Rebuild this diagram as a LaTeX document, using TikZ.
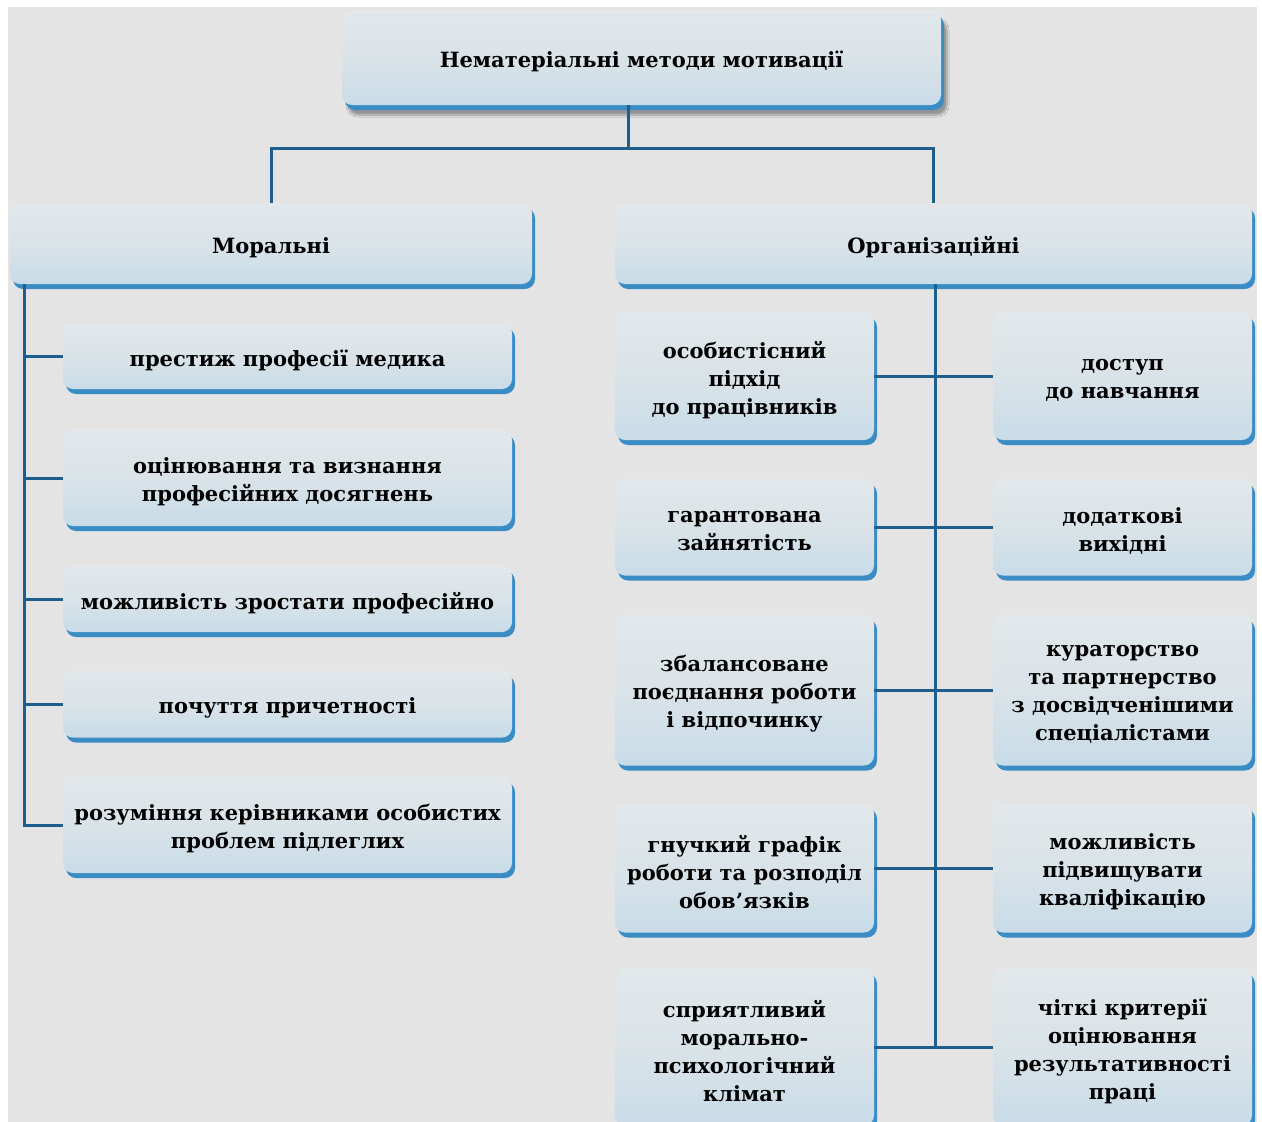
\documentclass[tikz,border=0pt]{standalone}
\usepackage{fontspec}
\setmainfont{DejaVu Serif}
\usetikzlibrary{shadows,shadows.blur}
\definecolor{bggray}{HTML}{E4E4E4}
\definecolor{edgeblue}{HTML}{3A8CC4}
\definecolor{linkblue}{HTML}{1E5E8C}
\definecolor{boxtop}{HTML}{E2E8EB}
\definecolor{boxmid}{HTML}{DAE3E8}
\definecolor{boxbot}{HTML}{C8DCE8}
\tikzset{
  mybox/.style={rectangle, rounded corners=10pt, inner sep=0pt, draw=none,
    top color=boxtop, bottom color=boxbot, middle color=boxmid,
    general shadow={fill=edgeblue, shadow xshift=3pt, shadow yshift=-5pt}},
  txt/.style={align=center, inner sep=0pt, yshift=-4pt, font=\bfseries\fontsize{21}{28}\selectfont},
  link/.style={draw=linkblue, line width=3pt},
}
\newcommand\bx[6]{\node[mybox, minimum width=#4pt, minimum height=#5pt, label={[txt]center:{#6}}] (#1) at (#2,#3) {};}
\begin{document}
\begin{tikzpicture}[x=1pt,y=-1pt]
\useasboundingbox (0,0) rectangle (1262,1122);
\fill[white] (0,0) rectangle (1262,1122);
\fill[bggray] (8,7) rectangle (1257,1122);
\clip (0,0) rectangle (1262,1122);

\coordinate (j) at (628,148);
\coordinate (lt) at (24,0);
\coordinate (rt) at (935,0);

% top
\node[blur shadow={shadow xshift=6pt, shadow yshift=-10pt, shadow blur steps=8, shadow opacity=35}, mybox, minimum width=599pt, minimum height=95pt, label={[txt]center:{Нематеріальні методи мотивації}}] (top) at (641.5,57.5) {};
\bx{mor}{271}{243.5}{522}{81}{Моральні}
\bx{org}{933.5}{243.5}{637}{81}{Організаційні}

% left column
\bx{L1}{287.5}{356}{449}{66}{престиж професії медика}
\bx{L2}{287.5}{478}{449}{96}{оцінювання та визнання\\професійних досягнень}
\bx{L3}{287.5}{599}{449}{66}{можливість зростати професійно}
\bx{L4}{287.5}{704}{449}{67}{почуття причетності}
\bx{L5}{287.5}{825}{449}{96}{розуміння керівниками особистих\\проблем підлеглих}

% right columns
\bx{A1}{744.5}{376}{259}{128}{особистісний\\підхід\\до працівників}
\bx{B1}{1122.5}{376}{259}{128}{доступ\\до навчання}
\bx{A2}{744.5}{527}{259}{97}{гарантована\\зайнятість}
\bx{B2}{1122.5}{527}{259}{97}{додаткові\\вихідні}
\bx{A3}{744.5}{690}{259}{151}{збалансоване\\поєднання роботи\\і відпочинку}
\bx{B3}{1122.5}{690}{259}{151}{кураторство\\та партнерство\\з досвідченішими\\спеціалістами}
\bx{A4}{744.5}{868}{259}{129}{гнучкий графік\\роботи та розподіл\\обов’язків}
\bx{B4}{1122.5}{868}{259}{129}{можливість\\підвищувати\\кваліфікацію}
\bx{A5}{744.5}{1047}{259}{157}{сприятливий\\морально-\\психологічний\\клімат}
\bx{B5}{1122.5}{1047}{259}{157}{чіткі критерії\\оцінювання\\результативності\\праці}

% connectors
\draw[link] (top.south -| j) -- (j);
\draw[link] (mor.north) |- (j) -| (org.north);
\draw[link] (mor.south -| lt) |- (L5.west);
\foreach \n in {L1,L2,L3,L4} \draw[link] (\n.west -| lt) -- (\n.west);
\draw[link] (org.south -| rt) -- (A5.east -| rt);
\foreach \i in {1,...,5} \draw[link] (A\i.east) -- (B\i.west);
\end{tikzpicture}
\end{document}
